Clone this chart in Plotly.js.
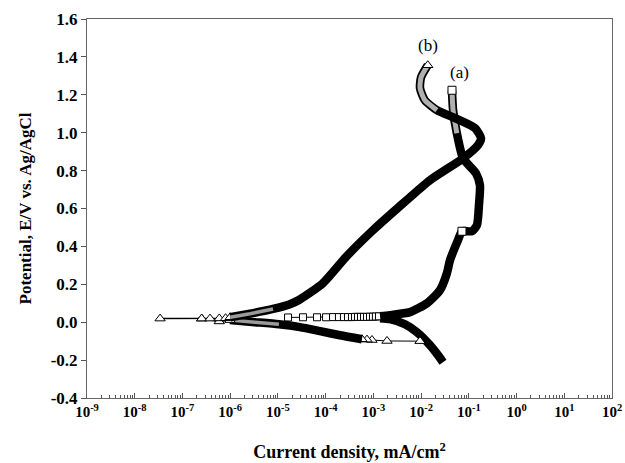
<!DOCTYPE html>
<html>
<head>
<meta charset="utf-8">
<script src="https://cdn.plot.ly/plotly-3.0.1.min.js"></script>
<style>html,body{margin:0;padding:0;background:#fff;}#chart{width:625px;height:463px;}</style>
</head>
<body>
<div id="chart"></div>
<script>
// ---- Series (a): squares ----
// cathodic branch (dense), from start of sweep toward Ecorr
var aCathI = [0.0288, 0.0226, 0.01535, 0.0082, 0.0046, 0.00223, 0.00138];
var aCathE = [-0.211, -0.174, -0.121, -0.053, -0.011, 0.016, 0.021];
// sparse points near Ecorr
var aFlatI = [1.63e-5, 3.35e-5, 6.6e-5, 1.02e-4, 1.43e-4, 1.9e-4, 2.42e-4, 2.94e-4, 3.56e-4, 4.12e-4, 4.76e-4, 5.5e-4, 6.37e-4, 7.35e-4, 8.5e-4, 9.8e-4, 1.13e-3, 1.31e-3];
var aFlatE = [0.025, 0.026, 0.026, 0.026, 0.027, 0.027, 0.027, 0.027, 0.027, 0.028, 0.028, 0.028, 0.028, 0.028, 0.029, 0.029, 0.030, 0.031];
// anodic branch (dense)
var aAnodI = [0.00138, 0.00223, 0.00585, 0.0133, 0.0249, 0.0348, 0.0403, 0.0593, 0.0719, 0.1164, 0.148, 0.163, 0.171, 0.141, 0.0759, 0.0562, 0.0468, 0.0444];
var aAnodE = [0.032, 0.037, 0.053, 0.100, 0.169, 0.259, 0.327, 0.433, 0.480, 0.480, 0.512, 0.617, 0.723, 0.786, 0.865, 0.997, 1.119, 1.224];
var aMarkI = [0.0719, 0.0444];
var aMarkE = [0.480, 1.224];

// ---- Series (b): triangles ----
var bCathSparseI = [9.5e-3, 1.93e-3, 9.35e-4, 7.35e-4, 5.77e-4];
var bCathSparseE = [-0.100, -0.099, -0.094, -0.092, -0.090];
var bCathI = [5.77e-4, 2.0e-4, 7.6e-5, 2.9e-5, 1.05e-5, 3.3e-6, 9.9e-7];
var bCathE = [-0.090, -0.069, -0.047, -0.026, -0.011, 0.000, 0.011];
var bEcorrI = [9.9e-7, 5.9e-7, 2.53e-7, 3.4e-8, 2.53e-7, 3.78e-7, 5.9e-7, 8.0e-7, 1.0e-6];
var bEcorrE = [0.011, 0.004, 0.019, 0.019, 0.019, 0.019, 0.020, 0.021, 0.026];
var bAnodI = [1.0e-6, 2.6e-6, 7.9e-6, 1.78e-5, 2.88e-5, 8.7e-5, 2.8e-4, 9.3e-4, 3.16e-3, 1.55e-2, 7.59e-2, 0.155, 0.18, 0.135, 0.0513, 0.0214, 0.012, 0.0095, 0.0100, 0.0138];
var bAnodE = [0.026, 0.045, 0.070, 0.095, 0.120, 0.205, 0.350, 0.480, 0.600, 0.750, 0.865, 0.934, 0.971, 1.024, 1.077, 1.119, 1.171, 1.235, 1.293, 1.356];
var bMarkI = [0.0138];
var bMarkE = [1.356];

// ---- axis ticks ----
var xTickVals = [1e-9, 1e-8, 1e-7, 1e-6, 1e-5, 1e-4, 1e-3, 1e-2, 1e-1, 1, 10, 100];
var xTickText = ['10<sup>-9</sup>', '10<sup>-8</sup>', '10<sup>-7</sup>', '10<sup>-6</sup>', '10<sup>-5</sup>', '10<sup>-4</sup>', '10<sup>-3</sup>', '10<sup>-2</sup>', '10<sup>-1</sup>', '10<sup>0</sup>', '10<sup>1</sup>', '10<sup>2</sup>'];
var yTickVals = [-0.4, -0.2, 0.0, 0.2, 0.4, 0.6, 0.8, 1.0, 1.2, 1.4, 1.6];
var yTickText = ['-0.4', '-0.2', '0.0', '0.2', '0.4', '0.6', '0.8', '1.0', '1.2', '1.4', '1.6'];

var aHatchFrom = 15; // index in aAnod where hatched look starts
var bHatchFrom = 15;
var bAnodHatchTo = 3;  // low-current part of b anodic drawn hatched
var bCathHatchFrom = 4; // low-current part of b cathodic drawn hatched

var serif = 'Liberation Serif, Times New Roman, serif';
var BAND = 8.5;

function dense(x, y, w, c) {
  return {x: x, y: y, type: 'scatter', mode: 'lines', line: {color: c || '#000', width: w || BAND, shape: 'spline', smoothing: 0.6}, hoverinfo: 'skip', showlegend: false};
}

var traces = [
  dense(aCathI, aCathE),
  {x: aFlatI, y: aFlatE, type: 'scatter', mode: 'lines+markers', line: {color: '#000', width: 1},
   marker: {symbol: 'square', size: 7, color: '#fff', line: {color: '#000', width: 1}}, showlegend: false},
  dense(aAnodI, aAnodE),
  dense(aAnodI.slice(aHatchFrom), aAnodE.slice(aHatchFrom), 5, '#b0b0b0'),
  {x: aMarkI, y: aMarkE, type: 'scatter', mode: 'markers',
   marker: {symbol: 'square', size: 8, color: '#fff', line: {color: '#000', width: 1}}, showlegend: false},

  {x: bCathSparseI, y: bCathSparseE, type: 'scatter', mode: 'lines+markers', line: {color: '#000', width: 1},
   marker: {symbol: 'triangle-up', size: 9, color: '#fff', line: {color: '#000', width: 1}}, showlegend: false},
  dense(bCathI, bCathE),
  dense(bCathI.slice(bCathHatchFrom), bCathE.slice(bCathHatchFrom), 3.5, '#9a9a9a'),
  {x: bEcorrI, y: bEcorrE, type: 'scatter', mode: 'lines+markers', line: {color: '#000', width: 1.5},
   marker: {symbol: 'triangle-up', size: 9, color: '#fff', line: {color: '#000', width: 1}}, showlegend: false},
  dense(bAnodI, bAnodE),
  dense(bAnodI.slice(0, bAnodHatchTo), bAnodE.slice(0, bAnodHatchTo), 3.5, '#9a9a9a'),
  dense(bAnodI.slice(bHatchFrom), bAnodE.slice(bHatchFrom), 5, '#b0b0b0'),
  {x: bMarkI, y: bMarkE, type: 'scatter', mode: 'markers',
   marker: {symbol: 'triangle-up', size: 9, color: '#fff', line: {color: '#000', width: 1}}, showlegend: false}
];

var layout = {
  width: 625, height: 463,
  margin: {l: 87, r: 13, t: 19, b: 65},
  paper_bgcolor: '#fff', plot_bgcolor: '#fff',
  showlegend: false,
  font: {family: serif, color: '#000'},
  xaxis: {
    type: 'log', range: [-9, 2],
    tickmode: 'array', tickvals: xTickVals, ticktext: xTickText,
    ticks: 'inside', ticklen: 5, tickcolor: '#555', tickwidth: 1,
    minor: {dtick: 'D1', ticks: 'inside', ticklen: 3, tickcolor: '#555', showgrid: false},
    showline: true, mirror: true, linecolor: '#666', linewidth: 1,
    showgrid: false, zeroline: false,
    tickfont: {family: serif, size: 15, weight: 'bold', color: '#000'},
    title: {text: 'Current density, mA/cm<sup>2</sup>', font: {family: serif, size: 18, weight: 'bold', color: '#000'}, standoff: 26}
  },
  yaxis: {
    range: [-0.4, 1.6],
    tickmode: 'array', tickvals: yTickVals, ticktext: yTickText,
    ticks: 'outside', ticklen: 5, tickcolor: '#555', tickwidth: 1,
    showline: true, mirror: true, linecolor: '#666', linewidth: 1,
    showgrid: false, zeroline: false,
    tickfont: {family: serif, size: 17, weight: 'bold', color: '#000'},
    title: {text: 'Potential, E/V vs. Ag/AgCl', font: {family: serif, size: 17, weight: 'bold', color: '#000'}, standoff: 14}
  },
  annotations: [
    {x: Math.log10(0.0653), y: 1.319, xref: 'x', yref: 'y', text: '(a)', showarrow: false, font: {family: serif, size: 17, color: '#000'}},
    {x: Math.log10(0.0139), y: 1.462, xref: 'x', yref: 'y', text: '(b)', showarrow: false, font: {family: serif, size: 17, color: '#000'}}
  ]
};

Plotly.newPlot('chart', traces, layout, {staticPlot: true, displayModeBar: false});
</script>
</body>
</html>
